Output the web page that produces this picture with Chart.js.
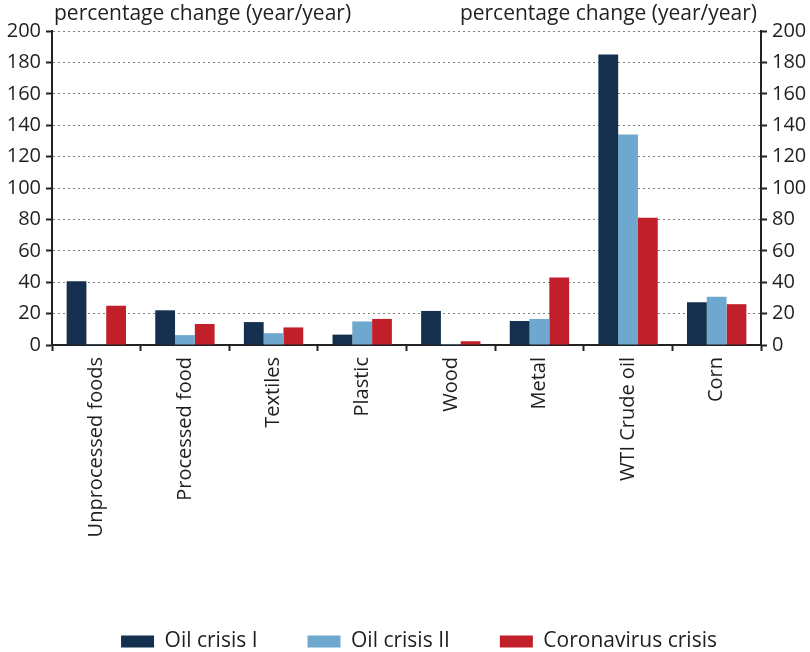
<!DOCTYPE html>
<html>
<head>
<meta charset="utf-8">
<script src="https://cdn.jsdelivr.net/npm/chart.js@4/dist/chart.umd.min.js"></script>
<style>
  html, body { margin: 0; padding: 0; background: #fff; }
  #wrap { width: 810px; height: 652px; }
</style>
</head>
<body>
<div id="wrap"><canvas id="grafico"></canvas></div>
<script>
// dados
const categorias = ["Unprocessed foods", "Processed food", "Textiles", "Plastic", "Wood", "Metal", "WTI Crude oil", "Corn"];
const oilCrisis1 = [40.6, 22.1, 14.6, 6.6, 21.7, 15.3, 185, 27.3];
const oilCrisis2 = [0.5, 6.3, 7.5, 15, 0.6, 16.6, 134, 30.8];
const coronaCrisis = [25, 13.4, 11.2, 16.6, 2.4, 43, 81, 26];
const yTicks = [0, 20, 40, 60, 80, 100, 120, 140, 160, 180, 200];
const axisTitle = "percentage change (year/year)";

const fonte = "'Open Sans', sans-serif";
const corTexto = "#1f1f1f";
Chart.defaults.font.family = fonte;
Chart.defaults.font.size = 20;
Chart.defaults.color = corTexto;

// titulos das escalas no topo
const titulos = {
  id: "titulos",
  afterLayout(chart) {
    // legenda um pouco mais para a direita
    chart.legend.left += 14;
    chart.legend.right += 14;
  },
  afterDraw(chart) {
    const { ctx, chartArea } = chart;
    ctx.save();
    ctx.font = "21px " + fonte;
    ctx.fillStyle = corTexto;
    ctx.textBaseline = "middle";
    ctx.textAlign = "left";
    ctx.fillText(axisTitle, chartArea.left + 2, 14);
    ctx.textAlign = "right";
    ctx.fillText(axisTitle, chartArea.right - 4, 14);
    ctx.restore();
  },
};

const eixoY = (pos) => ({
  position: pos,
  min: 0,
  max: 200,
  afterBuildTicks: (s) => { s.ticks = yTicks.map((v) => ({ value: v })); },
  afterFit: (s) => { s.width = pos === "left" ? 52 : 49; },
  ticks: { padding: 5, font: { size: 20 } },
  grid: {
    display: true,
    drawOnChartArea: pos === "left",
    color: "#808080",
    lineWidth: 1,
    tickColor: "#222",
    tickLength: 6,
    tickWidth: 2,
  },
  border: { display: true, color: "#222", width: 2, dash: [2, 3] },
});

new Chart(document.getElementById("grafico").getContext("2d"), {
  type: "bar",
  data: {
    labels: categorias,
    datasets: [
      { label: "Oil crisis I", data: oilCrisis1, backgroundColor: "#14304e", yAxisID: "y" },
      { label: "Oil crisis II", data: oilCrisis2, backgroundColor: "#6fa8ce", yAxisID: "y" },
      { label: "Coronavirus crisis", data: coronaCrisis, backgroundColor: "#c1202b", yAxisID: "y" },
    ],
  },
  options: {
    responsive: true,
    maintainAspectRatio: false,
    animation: false,
    datasets: { bar: { categoryPercentage: 0.67, barPercentage: 1 } },
    layout: { padding: { top: 31, left: 0, right: 0, bottom: -10 } },
    plugins: {
      legend: {
        position: "bottom",
        labels: { boxWidth: 33, boxHeight: 12, padding: 50, font: { size: 21 } },
      },
      tooltip: { enabled: false },
    },
    scales: {
      x: {
        afterFit: (s) => { s.height = 236; },
        ticks: { minRotation: 90, maxRotation: 90, padding: 6, font: { size: 20 } },
        grid: { offset: true, drawOnChartArea: false, tickColor: "#222", tickLength: 6, tickWidth: 2 },
        border: { display: true, color: "#222", width: 2 },
      },
      y: eixoY("left"),
      y2: eixoY("right"),
    },
  },
  plugins: [titulos],
});
</script>
</body>
</html>
